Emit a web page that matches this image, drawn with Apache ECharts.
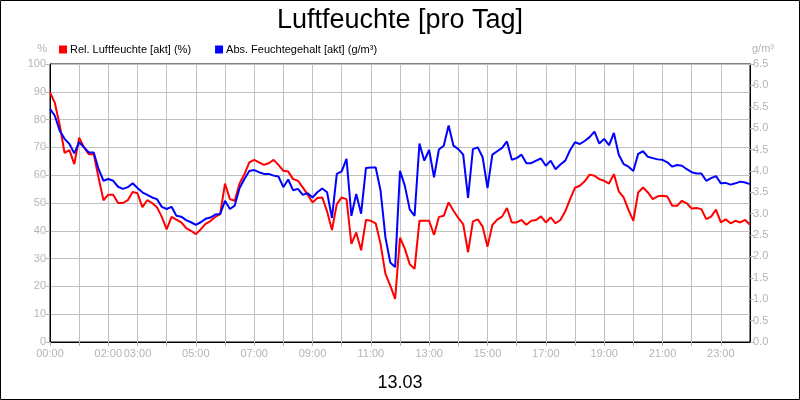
<!DOCTYPE html>
<html>
<head>
<meta charset="utf-8">
<script src="https://cdn.jsdelivr.net/npm/echarts@6/dist/echarts.min.js"></script>
<style>
  html, body { margin: 0; padding: 0; background: #fff; }
  #chart { width: 800px; height: 400px; }
</style>
</head>
<body>
<div id="chart"></div>
<script>
// Messwerte alle 10 Minuten, 00:00 bis 24:00
const relHumidity = [
  89.8, 86, 78, 68, 69, 64,
  73.5, 70, 67.5, 67.5, 59, 51,
  53, 53, 50, 50, 51, 54,
  53.5, 48.5, 51, 50, 48.5, 45,
  40.5, 45, 44, 43, 41, 40,
  38.8, 40.5, 42.5, 43.5, 45, 46,
  57, 51.4, 50.8, 57, 60.4, 64.6,
  65.5, 64.6, 63.7, 64.3, 65.5, 63.7,
  61.6, 61.3, 58.6, 58, 55.6, 53,
  50.2, 51.8, 52, 47, 40.3, 49.6,
  52, 51.4, 35.3, 39.4, 33, 43.9,
  43.6, 42.7, 35.3, 24.5, 20.3, 15.5,
  37.5, 33.5, 28, 26.3, 43.6, 43.6,
  43.6, 38.5, 45, 45.4, 50.2, 47.2,
  44.6, 42.4, 32.3, 43.4, 44.1, 41.5,
  34.3, 42.1, 44, 45.1, 48.2, 43,
  43, 43.9, 42.2, 43.6, 43.9, 45.2,
  43, 44.8, 42.7, 43.9, 47, 51.4,
  55.5, 56.2, 57.8, 60.2, 59.8, 58.6,
  58, 57, 60.4, 54.2, 52, 47.5,
  43.6, 53.8, 55.6, 53.8, 51.4, 52.4,
  52.6, 52.3, 49, 49, 50.8, 49.9,
  48, 48.2, 47.8, 44.2, 45.1, 47.6,
  43, 44.1, 42.7, 43.6, 43, 43.9,
  42.2
]

const absHumidity = [
  5.45, 5.29, 4.94, 4.75, 4.63, 4.41,
  4.67, 4.55, 4.43, 4.43, 4.04, 3.77,
  3.81, 3.77, 3.63, 3.58, 3.62, 3.71,
  3.6, 3.5, 3.44, 3.38, 3.34, 3.16,
  3.11, 3.16, 2.95, 2.93, 2.85, 2.8,
  2.74, 2.8, 2.88, 2.91, 2.98, 2.99,
  3.3, 3.11, 3.19, 3.6, 3.81, 4.0,
  4.02, 3.97, 3.93, 3.93, 3.89, 3.87,
  3.62, 3.8, 3.55, 3.58, 3.44, 3.48,
  3.38, 3.5, 3.59, 3.5, 2.9, 3.93,
  3.99, 4.28, 2.95, 3.46, 3.0, 4.07,
  4.08, 4.08, 3.54, 2.45, 1.86, 1.75,
  4.0, 3.65, 3.1, 2.95, 4.64, 4.24,
  4.49, 3.85, 4.5, 4.59, 5.06, 4.59,
  4.51, 4.38, 3.37, 4.51, 4.55, 4.32,
  3.6, 4.38, 4.46, 4.54, 4.69, 4.26,
  4.3, 4.38, 4.18, 4.18, 4.24, 4.29,
  4.12, 4.24, 4.04, 4.15, 4.24, 4.49,
  4.67, 4.63, 4.7, 4.79, 4.92, 4.64,
  4.75, 4.6, 4.89, 4.38, 4.16, 4.1,
  4.0, 4.4, 4.46, 4.33, 4.3, 4.27,
  4.26, 4.2, 4.1, 4.14, 4.12, 4.04,
  3.97, 3.94, 3.94, 3.77, 3.83, 3.88,
  3.71, 3.72, 3.68, 3.71, 3.75, 3.73,
  3.69
]

// beschriftete Stunden auf der x-Achse
const labelHours = [0, 2, 3, 5, 7, 9, 11, 13, 15, 17, 19, 21, 23]

const seriesNames = ['Rel. Luftfeuchte [akt] (%)', 'Abs. Feuchtegehalt [akt] (g/m³)']

const hours = relHumidity.map((_, i) => i / 6)

const font = '"Liberation Sans", Arial, sans-serif'
const grey = '#b4b4b4'
const gridGrey = '#c0c0c0'

const chart = echarts.init(document.getElementById('chart'))

const option = {
  animation: false,
  backgroundColor: '#fff',
  textStyle: { fontFamily: font },
  title: [
    {
      text: 'Luftfeuchte [pro Tag]',
      left: 'center',
      top: 2,
      textStyle: { fontSize: 27, fontWeight: 'normal', color: '#000', fontFamily: font }
    },
    {
      text: '13.03',
      left: 'center',
      top: 369,
      textStyle: { fontSize: 18, fontWeight: 'normal', color: '#000', fontFamily: font }
    }
  ],
  legend: {
    left: 54,
    top: 39,
    itemWidth: 8,
    itemHeight: 8,
    itemGap: 24,
    icon: 'rect',
    textStyle: { fontSize: 11, color: '#000', fontFamily: font, padding: [0, 0, 0, -2] },
    data: seriesNames
  },
  grid: {
    left: 50,
    right: 50,
    top: 64,
    bottom: 58,
    show: true,
    borderColor: '#000',
    borderWidth: 1,
    containLabel: false
  },
  xAxis: {
    type: 'value',
    min: 0,
    max: 24,
    interval: 1,
    axisLine: { lineStyle: { color: '#000', width: 1 } },
    axisTick: { length: 4, lineStyle: { color: grey } },
    axisLabel: {
      color: grey,
      fontSize: 11,
      margin: 6,
      fontFamily: font,
      showMaxLabel: false,
      formatter: v => labelHours.includes(v) ? String(v).padStart(2, '0') + ':00' : ''
    },
    splitLine: { show: true, lineStyle: { color: gridGrey, width: 1 } }
  },
  yAxis: [
    {
      type: 'value',
      min: 0,
      max: 100,
      interval: 10,
      name: '%',
      nameGap: 10,
      nameTextStyle: { color: grey, fontSize: 11, align: 'right', padding: [0, 3, 0, 0] },
      axisLine: { show: true, lineStyle: { color: '#000' } },
      axisTick: { show: true, length: 4, lineStyle: { color: grey } },
      axisLabel: { color: grey, fontSize: 11, margin: 4, fontFamily: font },
      splitLine: { show: true, lineStyle: { color: gridGrey, width: 1 } }
    },
    {
      type: 'value',
      min: 0,
      max: 6.5,
      interval: 0.5,
      position: 'right',
      name: 'g/m³',
      nameGap: 10,
      nameTextStyle: { color: grey, fontSize: 11, align: 'left', padding: [0, 0, 0, 2] },
      axisLine: { show: true, lineStyle: { color: '#000' } },
      axisTick: { show: true, length: 4, lineStyle: { color: grey } },
      axisLabel: { color: grey, fontSize: 11, margin: 3, fontFamily: font, formatter: v => v.toFixed(1) },
      splitLine: { show: false }
    }
  ],
  series: [
    {
      name: seriesNames[0],
      type: 'line',
      yAxisIndex: 0,
      showSymbol: false,
      color: '#ff0000',
      lineStyle: { width: 2, color: '#ff0000' },
      data: hours.map((h, i) => [h, relHumidity[i]])
    },
    {
      name: seriesNames[1],
      type: 'line',
      yAxisIndex: 1,
      showSymbol: false,
      color: '#0000ff',
      lineStyle: { width: 2, color: '#0000ff' },
      data: hours.map((h, i) => [h, absHumidity[i]])
    }
  ],
  graphic: [
    {
      type: 'rect',
      shape: { x: 0.5, y: 0.5, width: 799, height: 399 },
      style: { fill: 'none', stroke: '#000', lineWidth: 1 },
      silent: true
    }
  ]
}

chart.setOption(option)

window.addEventListener('resize', () => {
  chart.resize()
})
</script>
</body>
</html>
